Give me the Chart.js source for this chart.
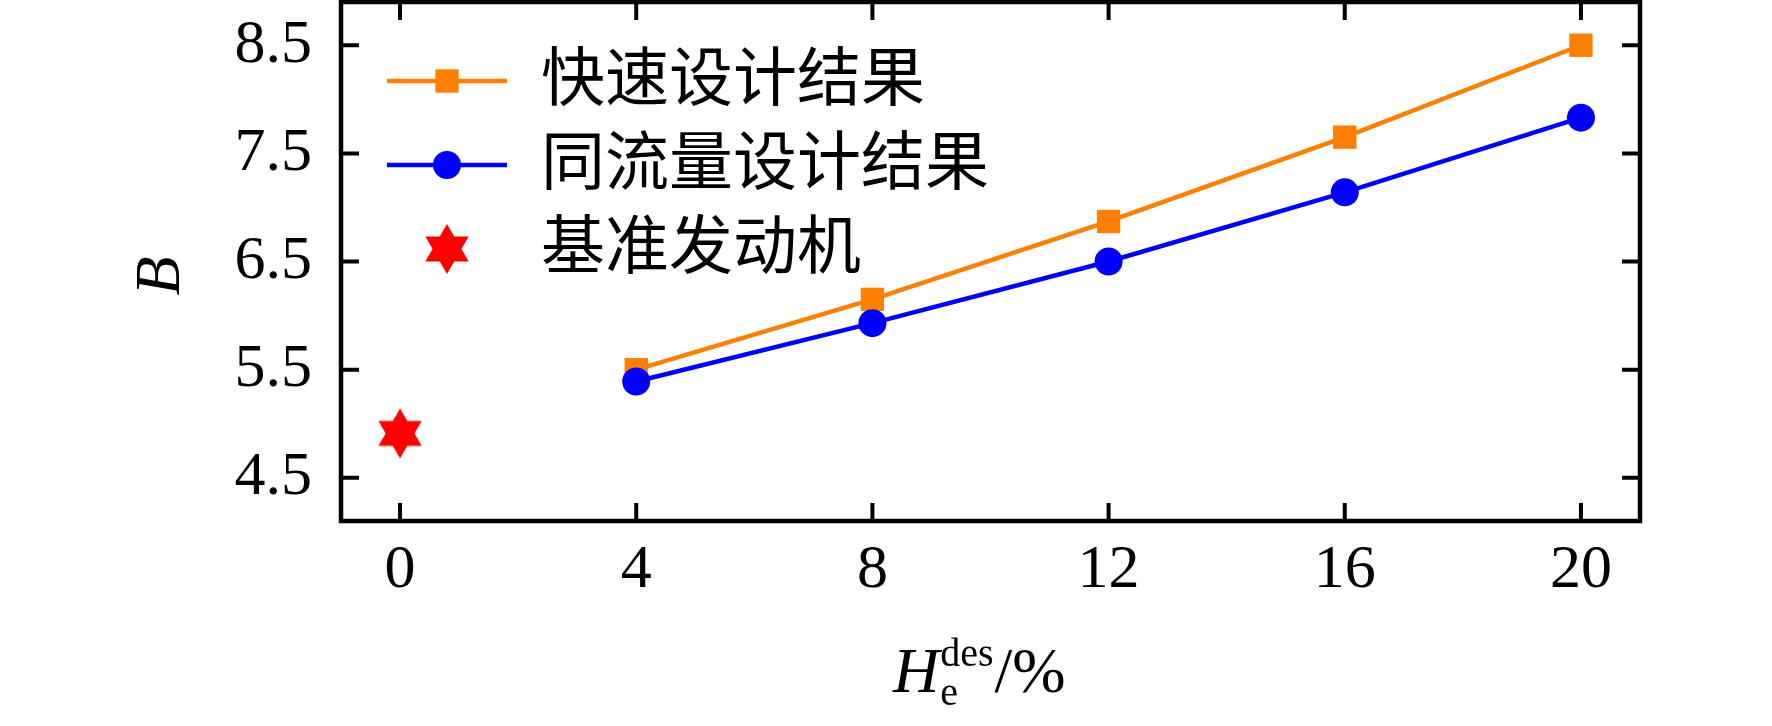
<!DOCTYPE html>
<html>
<head>
<meta charset="utf-8">
<script src="https://cdn.jsdelivr.net/npm/chart.js@4.4.1/dist/chart.umd.min.js"></script>
<style>
  html, body { margin: 0; padding: 0; background: #fff; }
  #wrap { width: 1772px; height: 726px; position: relative; }
</style>
</head>
<body>
<div id="wrap"><canvas id="bChart"></canvas></div>
<script>
// values
const xValues = [4, 8, 12, 16, 20];
const fastDesign = [5.50, 6.15, 6.87, 7.65, 8.50];
const sameFlowDesign = [5.39, 5.93, 6.50, 7.14, 7.83];
const baseX = [0];
const baseB = [4.91];
const seriesNames = ['快速设计结果', '同流量设计结果', '基准发动机'];
const xTicks = [0, 4, 8, 12, 16, 20];
const yTicks = [4.5, 5.5, 6.5, 7.5, 8.5];

const serif = "'Liberation Serif', 'Times New Roman', serif";
const legendFont = "64px 'Liberation Serif', 'Noto Sans CJK SC', sans-serif";

// six-pointed star marker
function makeHexagram(r, color) {
  const c = document.createElement('canvas');
  c.width = c.height = 2 * r + 4;
  const g = c.getContext('2d');
  const cx = r + 2, cy = r + 2;
  g.fillStyle = color;
  for (const start of [-Math.PI / 2, Math.PI / 2]) {
    g.beginPath();
    for (let i = 0; i < 3; i++) {
      const a = start + i * 2 * Math.PI / 3;
      g.lineTo(cx + r * Math.cos(a), cy + r * Math.sin(a));
    }
    g.closePath();
    g.fill();
  }
  return c;
}
const starImg = makeHexagram(25, '#ff0000');

const toPoints = (xs, ys) => xs.map((x, i) => ({ x: x, y: ys[i] }));

// box, inward ticks on all four sides, axis titles, legend
const framePlugin = {
  id: 'frame',
  afterDraw(chart) {
    const ctx = chart.ctx;
    const a = chart.chartArea;
    const xs = chart.scales.x, ys = chart.scales.y;
    const tl = 18;
    ctx.save();
    ctx.strokeStyle = '#000';
    ctx.lineWidth = 4;
    ctx.beginPath();
    xTicks.forEach(v => {
      const px = xs.getPixelForValue(v);
      ctx.moveTo(px, a.bottom); ctx.lineTo(px, a.bottom - tl);
      ctx.moveTo(px, a.top); ctx.lineTo(px, a.top + tl);
    });
    yTicks.forEach(v => {
      const py = ys.getPixelForValue(v);
      ctx.moveTo(a.left, py); ctx.lineTo(a.left + tl, py);
      ctx.moveTo(a.right, py); ctx.lineTo(a.right - tl, py);
    });
    ctx.stroke();
    ctx.lineWidth = 4.5;
    ctx.strokeRect(a.left, a.top, a.right - a.left, a.bottom - a.top);

    // y title
    ctx.fillStyle = '#000';
    ctx.save();
    ctx.translate(162, 276);
    ctx.rotate(-Math.PI / 2);
    ctx.font = 'italic 64px ' + serif;
    ctx.textAlign = 'center';
    ctx.textBaseline = 'middle';
    ctx.fillText('B', 0, 0);
    ctx.restore();

    // x title: H_e^des/%
    ctx.textBaseline = 'alphabetic';
    ctx.textAlign = 'left';
    let x = 893;
    const base = 692;
    ctx.font = 'italic 64px ' + serif;
    ctx.fillText('H', x, base);
    x += ctx.measureText('H').width + 1;
    ctx.font = '40px ' + serif;
    ctx.fillText('e', x, base + 13);
    ctx.fillText('des', x, base - 26);
    x += ctx.measureText('des').width + 1;
    ctx.font = '64px ' + serif;
    ctx.fillText('/%', x, base);

    // legend
    const lx0 = a.left + 46, lx1 = a.left + 166, mx = a.left + 106, tx = a.left + 200;
    const rows = [81, 165, 249];
    chart.data.datasets.forEach((ds, i) => {
      const y = rows[i];
      if (ds.showLine) {
        ctx.strokeStyle = ds.borderColor;
        ctx.lineWidth = ds.borderWidth;
        ctx.beginPath();
        ctx.moveTo(lx0, y); ctx.lineTo(lx1, y);
        ctx.stroke();
      }
      ctx.fillStyle = ds.pointBackgroundColor;
      Chart.helpers.drawPoint(ctx, {
        pointStyle: ds.pointStyle, radius: ds.pointRadius, rotation: 0,
        borderWidth: 0
      }, mx, y);
      ctx.fillStyle = '#000';
      ctx.font = legendFont;
      ctx.textBaseline = 'middle';
      ctx.fillText(ds.label, tx, y + 2);
    });
    ctx.restore();
  }
};

new Chart(document.getElementById('bChart'), {
  type: 'scatter',
  data: {
    datasets: [{
      label: seriesNames[0],
      data: toPoints(xValues, fastDesign),
      showLine: true,
      borderColor: '#ff8000',
      backgroundColor: '#ff8000',
      pointBackgroundColor: '#ff8000',
      borderWidth: 4.5,
      pointStyle: 'rect',
      pointRadius: 16.5,
      pointBorderWidth: 0,
      order: 2
    }, {
      label: seriesNames[1],
      data: toPoints(xValues, sameFlowDesign),
      showLine: true,
      borderColor: '#0000ff',
      backgroundColor: '#0000ff',
      pointBackgroundColor: '#0000ff',
      borderWidth: 4.5,
      pointStyle: 'circle',
      pointRadius: 14,
      pointBorderWidth: 0,
      order: 1
    }, {
      label: seriesNames[2],
      data: toPoints(baseX, baseB),
      showLine: false,
      borderColor: '#ff0000',
      backgroundColor: '#ff0000',
      pointBackgroundColor: '#ff0000',
      pointStyle: starImg,
      pointRadius: 25,
      order: 0
    }]
  },
  options: {
    responsive: true,
    maintainAspectRatio: false,
    animation: false,
    events: [],
    layout: { autoPadding: false, padding: { top: 2, right: 132, left: 0, bottom: 0 } },
    plugins: {
      legend: { display: false },
      tooltip: { enabled: false }
    },
    scales: {
      x: {
        type: 'linear',
        min: -1,
        max: 21,
        grid: { display: false, drawTicks: false },
        border: { display: false },
        afterBuildTicks: s => { s.ticks = xTicks.map(v => ({ value: v })); },
        afterFit: s => { s.height = 205; s.paddingLeft = 0; s.paddingRight = 0; },
        ticks: {
          color: '#000',
          padding: 13,
          maxRotation: 0,
          font: { family: serif, size: 62 }
        }
      },
      y: {
        min: 4.1,
        max: 8.9,
        grid: { display: false, drawTicks: false },
        border: { display: false },
        afterBuildTicks: s => { s.ticks = yTicks.map(v => ({ value: v })); },
        afterFit: s => { s.width = 341; s.paddingTop = 0; s.paddingBottom = 0; },
        ticks: {
          color: '#000',
          padding: 29,
          font: { family: serif, size: 62 },
          callback: v => v.toFixed(1)
        }
      }
    }
  },
  plugins: [framePlugin]
});
</script>
</body>
</html>
